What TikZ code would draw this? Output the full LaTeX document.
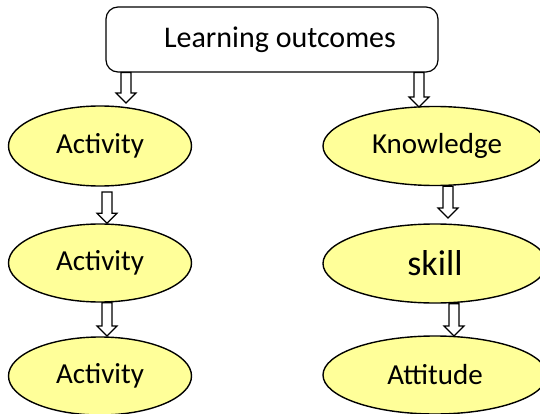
\documentclass[tikz,border=0pt]{standalone}
\usepackage{fontspec}
\setmainfont{Carlito}
\usetikzlibrary{shapes.geometric,calc}
\definecolor{ellfill}{HTML}{FFFF99}
\tikzset{
  ell/.style={ellipse,draw=black,line width=1.4pt,fill=ellfill,inner sep=0pt,
    font=\fontsize{29}{34}\selectfont},
  topbox/.style={draw=black,line width=1.2pt,rounded corners=12pt,fill=white,inner sep=0pt,
    minimum width=332pt,minimum height=65pt,font=\fontsize{30}{34}\selectfont},
  barrowstyle/.style={draw=black,line width=1.2pt,fill=white,line join=miter}
}
\newcommand\blockarrow[2]{%
  \path let \p1=#1, \p2=#2 in
    [barrowstyle] (\x1-5pt,\y1) -- (\x1+5pt,\y1) -- (\x1+5pt,\y2+10pt) -- (\x1+10pt,\y2+10pt)
    -- (\x1,\y2) -- (\x1-10pt,\y2+10pt) -- (\x1-5pt,\y2+10pt) -- cycle;}
\begin{document}
\begin{tikzpicture}[x=1pt,y=-1pt]
\useasboundingbox (0,0) rectangle (540,414);
\node[topbox] (lo) at (272,39.5) {\hspace{16pt}Learning outcomes};
\node[ell,minimum width=183pt,minimum height=80pt] (a1) at (100,146) {Activity\hspace{10pt}};
\node[ell,minimum width=183pt,minimum height=78pt] (a2) at (100,263) {Activity\hspace{10pt}};
\node[ell,minimum width=183pt,minimum height=78pt] (a3) at (100,376) {Activity\hspace{10pt}};
\node[ell,minimum width=224pt,minimum height=79pt] (k) at (435,146) {\hspace{4pt}Knowledge};
\node[ell,minimum width=224pt,minimum height=79pt,font=\fontsize{36}{42}\selectfont] (s) at (435,263.5) {skill};
\node[ell,minimum width=224pt,minimum height=78pt] (t) at (435,375) {Attitude\hspace{28pt}};
% connectors
\coordinate (c1s) at (lo.south -| 126,0);
\coordinate (c1e) at (126,103);
\coordinate (c2s) at (lo.south -| 419,0);
\coordinate (c2e) at (419,107);
\coordinate (c3s) at (107,192);
\coordinate (c3e) at (a2.north -| 107,0);
\coordinate (c4s) at (a2.south -| 107,0);
\coordinate (c4e) at (107,336);
\coordinate (c5s) at (k.south -| 448,0);
\coordinate (c5e) at (448,218);
\coordinate (c6s) at (s.south -| 454,0);
\coordinate (c6e) at (454,336);
\blockarrow{(c1s)}{(c1e)}
\blockarrow{(c2s)}{(c2e)}
\blockarrow{(c3s)}{(c3e)}
\blockarrow{(c4s)}{(c4e)}
\blockarrow{(c5s)}{(c5e)}
\blockarrow{(c6s)}{(c6e)}
\end{tikzpicture}
\end{document}
